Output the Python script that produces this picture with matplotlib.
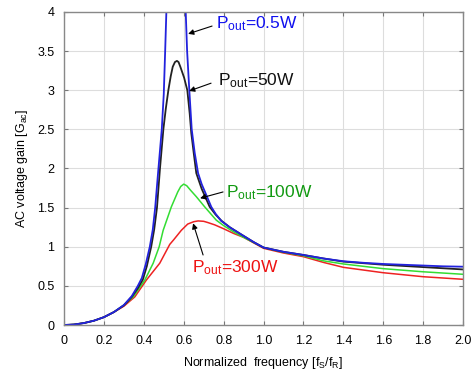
import matplotlib
matplotlib.use('Agg')
import matplotlib.pyplot as plt

plt.rcParams['font.family'] = ['Liberation Sans', 'DejaVu Sans']
plt.rcParams['mathtext.fontset'] = 'custom'
plt.rcParams['mathtext.rm'] = 'Liberation Sans'
plt.rcParams['mathtext.it'] = 'Liberation Sans'

# curves: normalized frequency -> AC voltage gain
f_05w = [0, 0.05, 0.1, 0.15, 0.2, 0.25, 0.3, 0.34, 0.37, 0.39, 0.41, 0.43, 0.445,
         0.457, 0.47, 0.48, 0.49, 0.5, 0.507, 0.513, 0.525, 0.596, 0.61, 0.617,
         0.628, 0.64, 0.655, 0.672, 0.69, 0.71, 0.738, 0.76, 0.788, 0.83, 0.88,
         0.95, 1.0, 1.1, 1.2, 1.3, 1.4, 1.5, 1.6, 1.7, 1.8, 1.9, 2.0]
g_05w = [0, 0.006, 0.025, 0.055, 0.1, 0.165, 0.255, 0.37, 0.5, 0.6, 0.78, 1.0, 1.22,
         1.5, 1.9, 2.2, 2.5, 2.95, 3.5, 4.0, 5.0, 5.0, 4.0, 3.5,
         3.0, 2.5, 2.2, 1.94, 1.8, 1.68, 1.51, 1.42, 1.33, 1.25, 1.17,
         1.06, 0.99, 0.935, 0.895, 0.85, 0.815, 0.795, 0.78, 0.77, 0.76, 0.75, 0.745]

f_50w = [0, 0.05, 0.1, 0.15, 0.2, 0.25, 0.3, 0.34, 0.37, 0.395, 0.415, 0.437, 0.452,
         0.466, 0.481, 0.498, 0.51, 0.523, 0.535, 0.545, 0.556, 0.566, 0.574, 0.583,
         0.602, 0.618, 0.63, 0.638, 0.65, 0.663, 0.69, 0.73, 0.76, 0.79, 0.83,
         0.88, 0.95, 1.0, 1.1, 1.2, 1.3, 1.4, 1.6, 1.8, 2.0]
g_50w = [0, 0.006, 0.025, 0.055, 0.1, 0.165, 0.25, 0.36, 0.47, 0.58, 0.75, 1.0, 1.22,
         1.5, 2.0, 2.5, 2.76, 3.0, 3.18, 3.3, 3.36, 3.375, 3.36, 3.3,
         3.16, 3.0, 2.7, 2.45, 2.2, 1.94, 1.74, 1.51, 1.41, 1.33, 1.25,
         1.17, 1.06, 0.99, 0.935, 0.895, 0.85, 0.81, 0.77, 0.74, 0.71]

f_100w = [0, 0.05, 0.1, 0.15, 0.2, 0.25, 0.3, 0.347, 0.405, 0.447, 0.477, 0.497,
          0.538, 0.57, 0.585, 0.6, 0.615, 0.635, 0.663, 0.705, 0.763, 0.8, 0.85,
          0.9, 1.0, 1.1, 1.2, 1.3, 1.4, 1.6, 1.8, 2.0]
g_100w = [0, 0.006, 0.025, 0.055, 0.1, 0.165, 0.255, 0.36, 0.575, 0.79, 1.0, 1.21,
          1.51, 1.7, 1.77, 1.8, 1.78, 1.72, 1.64, 1.51, 1.34, 1.27, 1.19,
          1.12, 0.99, 0.93, 0.885, 0.82, 0.78, 0.72, 0.68, 0.648]

f_300w = [0, 0.05, 0.1, 0.15, 0.2, 0.25, 0.28, 0.3, 0.355, 0.413, 0.48, 0.53, 0.55,
          0.588, 0.62, 0.65, 0.672, 0.7, 0.72, 0.755, 0.8, 0.85, 0.9, 1.0, 1.1,
          1.2, 1.3, 1.4, 1.6, 1.8, 2.0]
g_300w = [0, 0.006, 0.025, 0.055, 0.1, 0.165, 0.21, 0.24, 0.36, 0.575, 0.79, 1.03, 1.09,
          1.21, 1.29, 1.32, 1.33, 1.325, 1.31, 1.28, 1.23, 1.17, 1.12, 0.98, 0.92,
          0.873, 0.8, 0.737, 0.668, 0.617, 0.584]

x_ticks = [0, 0.2, 0.4, 0.6, 0.8, 1.0, 1.2, 1.4, 1.6, 1.8, 2.0]
x_tick_labels = ['0', '0.2', '0.4', '0.6', '0.8', '1.0', '1.2', '1.4', '1.6', '1.8', '2.0']
y_ticks = [0, 0.5, 1, 1.5, 2, 2.5, 3, 3.5, 4]
y_tick_labels = ['0', '0.5', '1', '1.5', '2', '2.5', '3', '3.5', '4']

fig = plt.figure(figsize=(4.74, 3.74), dpi=100)
ax = fig.add_axes([0.135, 0.131, 0.842, 0.837])

ax.plot(f_300w, g_300w, color='#ee2222', lw=1.1)
ax.plot(f_100w, g_100w, color='#33dd33', lw=1.1)
ax.plot(f_50w, g_50w, color='#222222', lw=1.3)
ax.plot(f_05w, g_05w, color='#2222dd', lw=1.3)

ax.set_xlim(0, 2.0)
ax.set_ylim(0, 4)
ax.set_xticks(x_ticks)
ax.set_xticklabels(x_tick_labels)
ax.set_yticks(y_ticks)
ax.set_yticklabels(y_tick_labels)
ax.grid(True, color='#dddddd', lw=0.8)
ax.set_axisbelow(True)
ax.tick_params(direction='in', top=True, right=True, length=3, color='#777777',
               labelsize=9, pad=7)
for s in ax.spines.values():
    s.set_color('#888888')
    s.set_linewidth(1.0)

ax.set_xlabel('Normalized  frequency [f$_\\mathrm{S}$/f$_\\mathrm{R}$]', fontsize=9, labelpad=6)
ax.set_ylabel('AC voltage gain [G$_\\mathrm{ac}$]', fontsize=9, labelpad=5)

arrow = dict(arrowstyle='-|>', color='k', lw=0.8, mutation_scale=8, shrinkA=0, shrinkB=0)
ax.annotate('', xy=(0.622, 3.72), xytext=(0.742, 3.82), arrowprops=arrow)
ax.annotate('', xy=(0.627, 2.99), xytext=(0.737, 3.09), arrowprops=arrow)
ax.annotate('', xy=(0.682, 1.62), xytext=(0.797, 1.70), arrowprops=arrow)
ax.annotate('', xy=(0.647, 1.30), xytext=(0.697, 0.895), arrowprops=arrow)

ax.text(0.762, 3.85, 'P$_\\mathrm{out}$=0.5W', color='#1010ee', fontsize=12.5, va='center')
ax.text(0.772, 3.12, 'P$_\\mathrm{out}$=50W', color='#111111', fontsize=12.5, va='center')
ax.text(0.812, 1.69, 'P$_\\mathrm{out}$=100W', color='#119911', fontsize=12.5, va='center')
ax.text(0.642, 0.73, 'P$_\\mathrm{out}$=300W', color='#ee1111', fontsize=12.5, va='center')

fig.savefig('out.png', dpi=100)
